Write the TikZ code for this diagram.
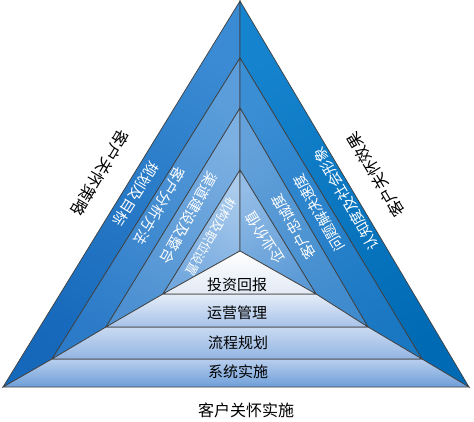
\documentclass[tikz,border=0pt]{standalone}
\usepackage{fontspec}
\newfontfamily\cjk{Noto Sans CJK SC}

\definecolor{lbandA}{HTML}{3A8BD3}
\definecolor{lbandB}{HTML}{1568BA}
\definecolor{lbandC}{HTML}{5A9DDA}
\definecolor{lbandD}{HTML}{2C7BC8}
\definecolor{lbandE}{HTML}{7DB0E2}
\definecolor{lbandF}{HTML}{4D91D2}
\definecolor{lbandG}{HTML}{AACBEC}
\definecolor{lbandH}{HTML}{73A8DE}
\definecolor{rbandA}{HTML}{1683CE}
\definecolor{rbandB}{HTML}{006BB4}
\definecolor{rbandC}{HTML}{3A8ED4}
\definecolor{rbandD}{HTML}{1A77C2}
\definecolor{rbandE}{HTML}{64A1DA}
\definecolor{rbandF}{HTML}{3F8BCD}
\definecolor{rbandG}{HTML}{93BCE6}
\definecolor{rbandH}{HTML}{5C9AD6}
\definecolor{frontA}{HTML}{B9CFEE}
\definecolor{frontB}{HTML}{6E9ED8}
\definecolor{frontC}{HTML}{C9DAF1}
\definecolor{frontD}{HTML}{93B5E3}
\definecolor{frontE}{HTML}{E6EDF8}
\definecolor{frontF}{HTML}{A6C2E8}
\definecolor{frontG}{HTML}{E2EAF5}

\begin{document}
\begin{tikzpicture}[
    x=1pt, y=1pt,
    face/.style={draw=black!75, line width=0.7pt},
    bandtext/.style={text=white, font=\cjk\fontsize{14.5}{14.5}\selectfont, inner sep=0pt},
    smalltext/.style={bandtext, font=\cjk\fontsize{12.5}{12.5}\selectfont},
    fronttext/.style={text=black, font=\cjk\fontsize{15}{15}\selectfont, inner sep=0pt},
    sidetext/.style={text=black, font=\cjk\fontsize{16}{16}\selectfont, inner sep=0pt}
]

\useasboundingbox (0,0) rectangle (474,421);

\coordinate (apex) at (240,420);
\coordinate (ridge1) at (240,363);
\coordinate (ridge2) at (240,313);
\coordinate (ridge3) at (240,251);
\coordinate (top) at (240,170);
\coordinate (left0) at (3,34);
\coordinate (left1) at (52,62);
\coordinate (left2) at (106,94);
\coordinate (left3) at (163,127);
\coordinate (right0) at (469,34);
\coordinate (right1) at (422,62);
\coordinate (right2) at (368,94);
\coordinate (right3) at (316,127);

\shade [face, top color=lbandA, bottom color=lbandB, shading angle=-30] (apex) -- (left0) -- (left1) -- (ridge1) -- cycle;
\shade [face, top color=lbandC, bottom color=lbandD, shading angle=-30] (ridge1) -- (left1) -- (left2) -- (ridge2) -- cycle;
\shade [face, top color=lbandE, bottom color=lbandF, shading angle=-30] (ridge2) -- (left2) -- (left3) -- (ridge3) -- cycle;
\shade [face, top color=lbandG, bottom color=lbandH, shading angle=-30] (ridge3) -- (left3) -- (top) -- cycle;

\shade [face, top color=rbandA, bottom color=rbandB, shading angle=30] (apex) -- (right0) -- (right1) -- (ridge1) -- cycle;
\shade [face, top color=rbandC, bottom color=rbandD, shading angle=30] (ridge1) -- (right1) -- (right2) -- (ridge2) -- cycle;
\shade [face, top color=rbandE, bottom color=rbandF, shading angle=30] (ridge2) -- (right2) -- (right3) -- (ridge3) -- cycle;
\shade [face, top color=rbandG, bottom color=rbandH, shading angle=30] (ridge3) -- (right3) -- (top) -- cycle;

\shade [face, top color=frontA, bottom color=frontB] (left0) -- (right0) -- (right1) -- (left1) -- cycle;
\shade [face, top color=frontC, bottom color=frontD] (left1) -- (right1) -- (right2) -- (left2) -- cycle;
\shade [face, top color=frontE, bottom color=frontF] (left2) -- (right2) -- (right3) -- (left3) -- cycle;
\shade [face, top color=white, bottom color=frontG] (left3) -- (right3) -- (top) -- cycle;

\node (goals) [bandtext, rotate=238] at (136,227) {规划及目标};
\node (analysis) [bandtext, rotate=240] at (160,215) {客户分析方法};
\node (channels) [bandtext, rotate=241] at (189,203) {渠道建设及整合};
\node (posts) [smalltext, rotate=240] at (211,184) {机构及职位设置};

\node (image) [bandtext, rotate=120] at (346,222) {认知度及社会形象};
\node (speed) [bandtext, rotate=120] at (319,208) {问题解决速度};
\node (loyalty) [bandtext, rotate=120] at (294,194) {客户忠诚度};
\node (value) [bandtext, rotate=122] at (265,183) {企业价值};

\node (roi) [fronttext] at (237,136) {投资回报};
\node (ops) [fronttext] at (237,108) {运营管理};
\node (process) [fronttext] at (238,78) {流程规划};
\node (system) [fronttext] at (238,49) {系统实施};

\node (strategy) [sidetext, rotate=239] at (100,248) {客户关怀策略};
\node (effect) [sidetext, rotate=121] at (376,246) {客户关怀效果};
\node (implement) [sidetext] at (246,11) {客户关怀实施};

\end{tikzpicture}
\end{document}
